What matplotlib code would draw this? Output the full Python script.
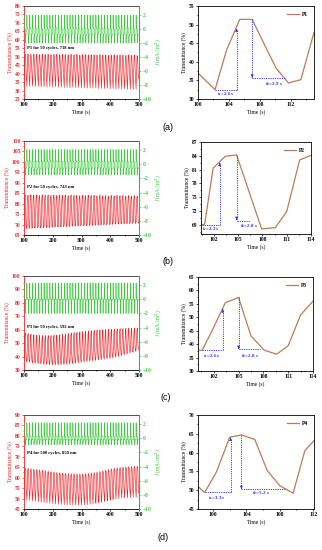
import matplotlib
matplotlib.use('Agg')
import matplotlib.pyplot as plt
from matplotlib.ticker import MultipleLocator, AutoMinorLocator

plt.rcParams['font.family'] = ['Liberation Serif', 'DejaVu Serif']
plt.rcParams['font.weight'] = 'bold'
plt.rcParams['mathtext.fontset'] = 'stix'

# ---------------- left panels: 40 cycles between 100 s and 500 s
cycle_start = [100 + 10 * k for k in range(40)]

# per-cycle maximum / minimum transmittance (%)
a_top = [51.4, 51.6, 51.3, 51.5, 51.4, 51.2, 51.5, 51.3, 51.4, 51.2,
         51.3, 51.5, 51.2, 51.4, 51.3, 51.1, 51.4, 51.2, 51.3, 51.0,
         51.2, 51.3, 51.0, 51.2, 51.1, 50.9, 51.2, 51.0, 51.1, 50.8,
         51.0, 51.1, 50.8, 51.0, 50.9, 50.7, 51.0, 50.8, 50.9, 50.6]
a_bot = [32.5, 32.8, 32.4, 32.6, 32.3, 32.5, 32.2, 32.4, 32.1, 32.3,
         32.0, 32.2, 31.9, 32.1, 31.8, 32.0, 31.7, 31.9, 31.6, 31.8,
         31.5, 31.7, 31.4, 31.6, 31.3, 31.5, 31.2, 31.4, 31.1, 31.3,
         31.0, 31.2, 30.9, 31.1, 30.8, 31.0, 30.7, 30.9, 30.6, 30.8]
b_top = [84.2, 84.0, 84.3, 84.1, 84.2, 83.9, 84.2, 84.0, 84.1, 83.9,
         84.1, 83.9, 84.2, 84.0, 84.1, 83.8, 84.1, 83.9, 84.0, 83.8,
         84.0, 83.8, 84.1, 83.9, 84.0, 83.7, 84.0, 83.8, 83.9, 83.7,
         83.9, 83.7, 84.0, 83.8, 83.9, 83.6, 83.9, 83.7, 83.8, 83.6]
b_bot = [68.1, 68.2, 68.2, 68.3, 68.4, 68.4, 68.5, 68.6, 68.6, 68.7,
         68.8, 68.8, 68.9, 69.0, 69.0, 69.1, 69.2, 69.2, 69.3, 69.4,
         69.4, 69.5, 69.6, 69.6, 69.7, 69.8, 69.8, 69.9, 70.0, 70.0,
         70.1, 70.2, 70.2, 70.3, 70.4, 70.4, 70.5, 70.6, 70.6, 70.7]
c_top = [57.4, 57.0, 56.6, 56.3, 56.0, 55.8, 55.7, 55.6, 55.6, 55.7,
         55.8, 56.0, 56.2, 56.5, 56.8, 57.1, 57.4, 57.7, 58.0, 58.3,
         58.6, 58.9, 59.1, 59.3, 59.5, 59.7, 59.9, 60.0, 60.2, 60.3,
         60.4, 60.5, 60.6, 60.7, 60.8, 60.9, 61.0, 61.1, 61.2, 61.3]
c_bot = [36.3, 35.8, 35.4, 35.0, 34.7, 34.4, 34.2, 34.0, 33.9, 33.8,
         33.8, 33.8, 33.9, 34.0, 34.2, 34.4, 34.7, 35.0, 35.3, 35.6,
         35.9, 36.2, 36.5, 36.8, 37.1, 37.4, 37.7, 38.0, 38.3, 38.6,
         39.0, 39.5, 40.0, 40.6, 41.2, 41.8, 42.5, 43.2, 44.0, 45.0]
d_top = [64.7, 64.5, 64.3, 64.1, 63.9, 63.7, 63.5, 63.3, 63.1, 62.9,
         62.7, 62.5, 62.4, 62.2, 62.1, 62.0, 61.9, 61.9, 61.8, 61.8,
         61.8, 61.9, 62.0, 62.2, 62.4, 62.7, 63.0, 63.3, 63.6, 63.9,
         64.2, 64.5, 64.7, 64.9, 65.1, 65.2, 65.3, 65.4, 65.5, 65.5]
d_bot = [49.3, 49.1, 48.9, 48.7, 48.5, 48.3, 48.1, 47.9, 47.7, 47.5,
         47.4, 47.2, 47.1, 47.0, 46.9, 46.8, 46.8, 46.7, 46.7, 46.7,
         46.7, 46.8, 46.9, 47.1, 47.3, 47.6, 47.9, 48.2, 48.5, 48.8,
         49.1, 49.4, 49.6, 49.8, 50.0, 50.1, 50.2, 50.3, 50.4, 50.5]

# one-cycle shape (phase in s, relative level)
a_phase = [0.0, 1.5, 3.2, 4.8, 6.4, 7.9]
a_shape = [0.0, 0.57, 1.0, 1.0, 0.64, 0.31]
b_phase = [0.0, 1.4, 2.9, 4.3, 7.4, 9.1]
b_shape = [0.06, 0.81, 0.98, 1.0, 0.0, 0.02]
c_phase = [0.0, 1.2, 2.8, 4.4, 5.9, 7.5, 9.0]
c_shape = [0.07, 0.41, 0.9, 1.0, 0.32, 0.07, 0.0]
d_phase = [0.0, 1.4, 3.0, 4.4, 6.0, 7.5, 9.0]
d_shape = [0.01, 0.36, 0.96, 1.0, 0.92, 0.39, 0.13]

# current density over one cycle (mA/cm2)
j_phase = [0.0, 0.3, 1.5, 4.9, 5.0, 5.3, 6.5, 9.9]
a_j = [2.0, 0.4, 0.1, 0.0, -2.0, -1.1, -0.8, -0.7]
b_j = [2.1, 0.6, 0.4, 0.35, -1.5, -0.7, -0.55, -0.5]
c_j = [2.3, 0.3, 0.05, 0.0, -2.0, -0.3, -0.05, 0.0]
d_j = [2.2, 0.5, 0.3, 0.25, -0.9, -0.3, -0.2, -0.2]

# ---------------- right panels: zoom of one cycle
p1_t = [100.0, 102.2, 103.7, 105.4, 107.0, 108.6, 110.1, 111.7, 113.3, 115.0]
p1_T = [37.0, 32.5, 43.2, 51.4, 51.4, 44.6, 38.3, 34.3, 35.2, 47.9]
p2_t = [100.4, 100.85, 101.9, 103.4, 104.8, 107.9, 109.6, 111.0, 112.6, 114.0]
p2_T = [69.0, 69.1, 81.3, 83.9, 84.2, 68.1, 68.4, 71.9, 83.1, 84.1]
p3_t = [100.1, 100.6, 101.8, 103.4, 105.0, 106.5, 108.1, 109.6, 111.0, 112.5, 114.0]
p3_T = [37.75, 37.75, 45.0, 55.4, 57.4, 43.1, 37.75, 36.25, 39.4, 50.9, 56.0]
p4_t = [98.2, 99.0, 100.4, 102.0, 103.4, 105.0, 106.5, 108.0, 109.6, 111.0, 112.1]
p4_T = [51.0, 49.4, 54.8, 64.1, 64.7, 63.5, 55.2, 51.2, 49.2, 60.5, 63.2]

# response times: (x start, x of vertical, base y, arrow tip y)
p1_tc = (102.2, 105.0, 32.5, 48.8)
p1_tb = (111.3, 107.0, 35.6, 51.4)
p2_tc = (100.5, 102.7, 69.0, 82.4)
p2_tb = (106.5, 104.8, 69.9, 84.2)
p3_tc = (100.6, 103.1, 37.75, 52.9)
p3_tb = (107.6, 105.0, 38.1, 57.4)
p4_tc = (99.0, 102.1, 49.4, 63.9)
p4_tb = (108.7, 103.4, 50.2, 64.7)

W, H = 322, 550
fig = plt.figure(figsize=(W / 100, H / 100), dpi=100)

RED = '#e8262b'
GREEN = '#3ccc3c'
BROWN = '#c07a50'
BLUE = '#2a2aff'
FS = 4.0


def px_axes(x0, y0, x1, y1):
    return fig.add_axes([x0 / W, 1 - y1 / H, (x1 - x0) / W, (y1 - y0) / H])


def build_cycles(top, bot, phase, shape):
    t, v = [], []
    for s, hi, lo in zip(cycle_start, top, bot):
        for p, r in zip(phase, shape):
            t.append(s + p)
            v.append(lo + r * (hi - lo))
    return t, v


def build_current(jv):
    t, v = [], []
    for s in cycle_start:
        for p, r in zip(j_phase, jv):
            t.append(s + p)
            v.append(r)
    return t, v


def left_panel(box, top, bot, phase, shape, jv, ylim, ystep, text, ty):
    ax = px_axes(*box)
    t, T = build_cycles(top, bot, phase, shape)
    ax.plot(t, T, color=RED, lw=0.45)
    ax.set_xlim(100, 500)
    ax.set_ylim(*ylim)
    ax.xaxis.set_major_locator(MultipleLocator(100))
    ax.xaxis.set_minor_locator(AutoMinorLocator(2))
    ax.yaxis.set_major_locator(MultipleLocator(ystep))
    ax.yaxis.set_minor_locator(AutoMinorLocator(2))
    ax.tick_params(which='both', direction='out', labelsize=FS, length=1.5, width=0.5, pad=1)
    ax.tick_params(which='minor', length=0.8)
    ax.tick_params(axis='y', which='both', colors=RED)
    ax.spines['left'].set_color(RED)
    ax.spines['top'].set_color('#333333')
    for s in ax.spines.values():
        s.set_linewidth(0.6)
    ax.set_xlabel('Time (s)', fontsize=FS, labelpad=1)
    ax.set_ylabel('Transmittance (%)', fontsize=FS, color=RED, labelpad=1.5)
    ax.text(0.03, ty, text, transform=ax.transAxes, fontsize=3.3, va='center')

    ax2 = ax.twinx()
    tj, J = build_current(jv)
    ax2.plot(tj, J, color=GREEN, lw=0.45)
    ax2.set_ylim(-10, 3.3)
    ax2.yaxis.set_major_locator(MultipleLocator(2))
    ax2.yaxis.set_minor_locator(AutoMinorLocator(2))
    ax2.tick_params(which='both', direction='out', labelsize=FS, length=1.5, width=0.5, pad=1, colors=GREEN)
    ax2.tick_params(which='minor', length=0.8)
    ax2.spines['right'].set_color(GREEN)
    ax2.spines['right'].set_linewidth(0.6)
    ax2.spines['left'].set_visible(False)
    ax2.spines['top'].set_visible(False)
    ax2.spines['bottom'].set_visible(False)
    ax2.set_ylabel('J (mA/cm$^2$)', fontsize=FS, color=GREEN, labelpad=1.5)


def response(ax, tc, tb, tc_lab, tb_lab, tc_xy, tb_xy):
    kw = dict(color=BLUE, lw=0.6, ls=(0, (1.5, 1.2)))
    ax.plot([tc[0], tc[1]], [tc[2], tc[2]], **kw)
    ax.plot([tc[1], tc[1]], [tc[2], tc[3]], **kw)
    ax.annotate('', xy=(tc[1], tc[3]), xytext=(tc[1], tc[3] - 0.001 * (tc[3] - tc[2]) - 0.01),
                arrowprops=dict(arrowstyle='-|>', color=BLUE, lw=0.5, mutation_scale=3.5))
    ax.plot([tb[1], tb[1]], [tb[3], tb[2]], **kw)
    ax.plot([tb[1], tb[0]], [tb[2], tb[2]], **kw)
    ax.annotate('', xy=(tb[1], tb[2] + 0.2), xytext=(tb[1], tb[2] + 0.21),
                arrowprops=dict(arrowstyle='-|>', color=BLUE, lw=0.5, mutation_scale=3.5))
    ax.text(tc_xy[0], tc_xy[1], tc_lab, color=BLUE, fontsize=3.6, ha='center', va='center')
    ax.text(tb_xy[0], tb_xy[1], tb_lab, color=BLUE, fontsize=3.6, ha='center', va='center')


def right_panel(box, t, T, name, xlim, xstep, ylim, ystep, yfirst=None):
    ax = px_axes(*box)
    ax.plot(t, T, color=BROWN, lw=0.9, label=name)
    ax.set_xlim(*xlim)
    ax.set_ylim(*ylim)
    ax.xaxis.set_major_locator(MultipleLocator(xstep))
    ax.xaxis.set_minor_locator(AutoMinorLocator(2))
    if yfirst is not None:
        ax.set_yticks(list(range(yfirst, int(ylim[1]) + 1, ystep)))
    else:
        ax.yaxis.set_major_locator(MultipleLocator(ystep))
    ax.yaxis.set_minor_locator(AutoMinorLocator(2))
    ax.tick_params(which='both', direction='out', labelsize=FS, length=1.5, width=0.5, pad=1)
    ax.tick_params(which='minor', length=0.8)
    for s in ax.spines.values():
        s.set_linewidth(0.6)
    ax.set_xlabel('Time (s)', fontsize=FS, labelpad=1.5)
    ax.set_ylabel('Transmittance (%)', fontsize=FS, labelpad=1.5)
    ax.legend(loc='upper right', fontsize=FS, frameon=False, handlelength=2.2,
              handletextpad=0.6, borderaxespad=0.6)
    return ax


# (a)
left_panel((24, 6, 139, 99), a_top, a_bot, a_phase, a_shape, a_j, (25, 80), 5,
           'P1 for 50 cycles, 718 nm', 0.55)
ax = right_panel((198, 6, 314, 99), p1_t, p1_T, 'P1', (100, 115), 4, (30, 55), 5)
ax.set_xticks([100, 104, 108, 112])
response(ax, p1_tc, p1_tb, 't$_c$=2.6 s', 't$_b$=3.9 s', (103.6, 31.2), (109.8, 34.1))

# (b)
left_panel((24, 141, 139, 235), b_top, b_bot, b_phase, b_shape, b_j, (65, 110), 5,
           'P2 for 50 cycles, 743 nm', 0.51)
ax = right_panel((201, 142, 311, 234), p2_t, p2_T, 'P2', (100.4, 114), 3, (67, 87), 3, yfirst=69)
ax.set_xticks([102, 105, 108, 111, 114])
response(ax, p2_tc, p2_tb, 't$_c$=2.2 s', 't$_b$=2.8 s', (101.6, 68.0), (106.3, 68.7))

# (c)
left_panel((24, 276, 139, 370), c_top, c_bot, c_phase, c_shape, c_j, (30, 100), 10,
           'P3 for 50 cycles, 592 nm', 0.46)
ax = right_panel((198, 277, 313, 371), p3_t, p3_T, 'P3', (100.1, 114), 3, (30, 65), 5)
ax.set_xticks([102, 105, 108, 111, 114])
response(ax, p3_tc, p3_tb, 't$_c$=2.6 s', 't$_b$=2.8 s', (101.8, 35.4), (106.4, 35.4))

# (d)
left_panel((24, 415, 139, 509), d_top, d_bot, d_phase, d_shape, d_j, (45, 90), 5,
           'P4 for 500 cycles, 850 nm', 0.6)
ax = right_panel((198, 415, 314, 509), p4_t, p4_T, 'P4', (98.2, 112.1), 4, (45, 70), 5)
ax.set_xticks([100, 104, 108, 112])
response(ax, p4_tc, p4_tb, 't$_c$=3.3 s', 't$_b$=5.2 s', (100.4, 47.9), (105.8, 49.1))

for lab, x, y in [('(a)', 168, 128), ('(b)', 168, 261), ('(c)', 166, 397), ('(d)', 163, 538)]:
    fig.text(x / W, 1 - y / H, lab, fontsize=6.5, family=['Liberation Sans', 'DejaVu Sans'],
             weight='normal', ha='center', va='center')

fig.savefig('out.png', dpi=100)
